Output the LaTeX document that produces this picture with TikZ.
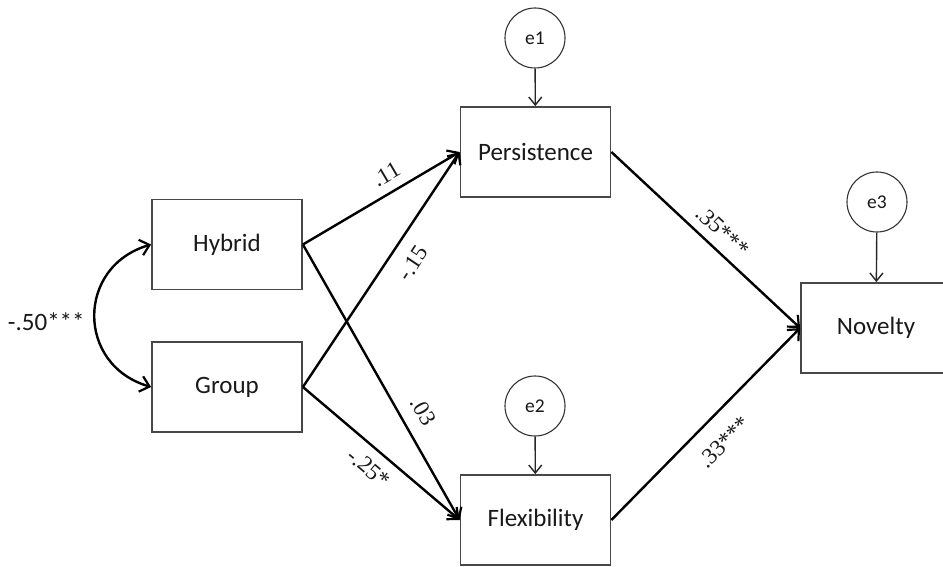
\documentclass[tikz,border=0pt]{standalone}
\usepackage{fontspec}
\setmainfont{Carlito}
\newfontfamily\labfont{Liberation Serif}
\usetikzlibrary{arrows.meta}
\begin{document}
\begin{tikzpicture}[x=1pt,y=-1pt,
  var/.style={draw=black!72, line width=1.8pt, minimum width=150pt, minimum height=90pt, inner sep=0pt, text=black!90, font=\fontsize{25}{29}\selectfont},
  err/.style={draw=black!80, line width=1.1pt, circle, minimum size=60pt, inner sep=0pt, text=black!90, font=\fontsize{19.5}{22}\selectfont},
  conn/.style={line width=2.4pt, -{Straight Barb[length=9pt,width=16pt,line width=2.2pt]}},
  errarr/.style={line width=1.4pt, black!85, -{Straight Barb[length=8pt,width=13pt,line width=1.4pt]}},
  coef/.style={font=\labfont\fontsize{23}{26}\selectfont, inner sep=0pt, sloped, text=black!90}
]
\clip (0,0) rectangle (943,567);
\fill[white] (0,0) rectangle (943,567);

\node[var] (hyb) at (227,244.5) {Hybrid};
\node[var] (grp) at (227,387) {Group};
\node[var] (per) at (535.5,152) {Persistence};
\node[var] (flx) at (535.5,520) {Flexibility};
\node[var] (nov) at (876,328) {Novelty};

\node[err] (e1) at (535,38) {e1};
\node[err] (e2) at (535,406) {e2};
\node[err] (e3) at (877,202) {e3};

\draw[errarr] (e1) -- (per);
\draw[errarr] (e2) -- (flx);
\draw[errarr] (e3) -- (nov);

\draw[line width=2.4pt, {Straight Barb[length=9pt,width=16pt,line width=2.2pt]}-{Straight Barb[length=9pt,width=16pt,line width=2.2pt]}]
  (hyb.west) .. controls +(-75,22) and +(-75,-22) .. (grp.west)
  node[pos=0.5, left=9pt, yshift=-6pt, inner sep=0pt, font=\fontsize{25}{29}\selectfont, text=black!90] {-.50***};

\draw[conn] (hyb.east) -- node[coef, pos=0.59, above=9pt] {.11} (per.west);
\draw[conn] (grp.east) -- node[coef, pos=0.58, below=14pt] {-.15} (per.west);
\draw[conn] (hyb.east) -- node[coef, pos=0.646, above=13pt] {.03} (flx.west);
\draw[conn] (grp.east) -- node[coef, pos=0.50, below=10pt] {-.25*} (flx.west);
\draw[conn] (per.east) -- node[coef, pos=0.525, above=9pt] {.35***} (nov.west);
\draw[conn] (flx.east) -- node[coef, pos=0.50, below=17pt] {.33***} (nov.west);
\end{tikzpicture}
\end{document}
